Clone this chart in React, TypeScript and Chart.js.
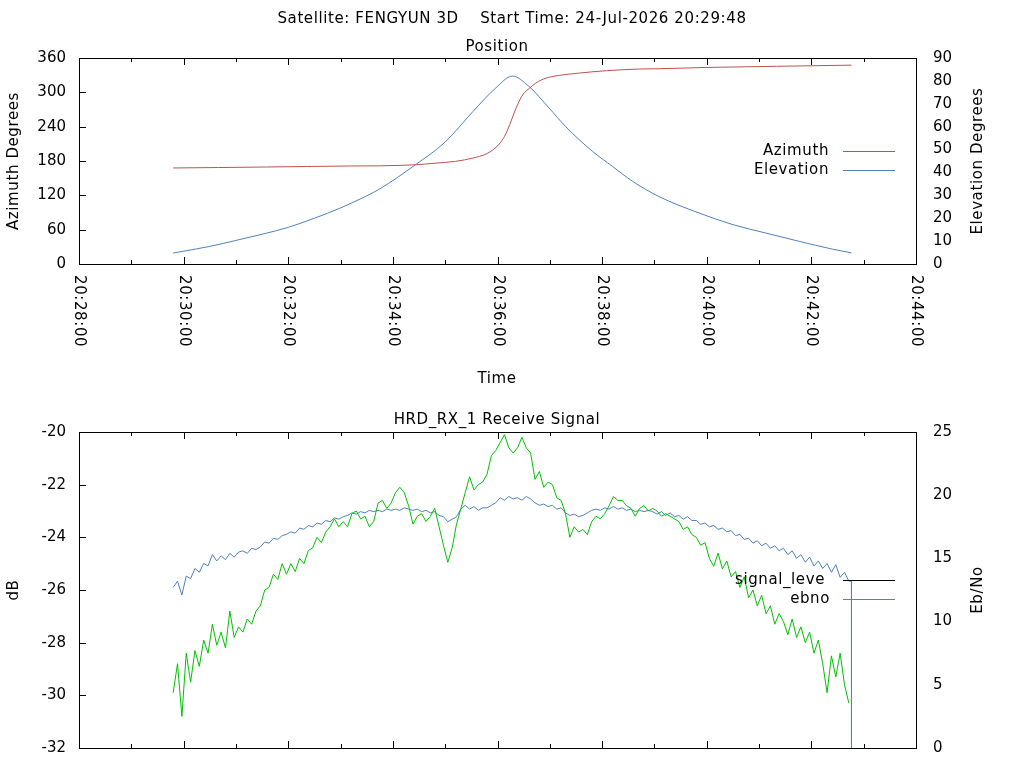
import { useEffect, useRef } from 'react';
import { Chart, registerables } from 'chart.js';

Chart.register(...registerables);

const FONT = '"DejaVu Sans", sans-serif';
const RED = '#c0504d';
const BLUE = '#4f81bd';
const GREEN = '#00c000';

// x axis is seconds after 20:28:00
const timeTickLabels = [
  '20:28:00', '20:30:00', '20:32:00', '20:34:00', '20:36:00',
  '20:38:00', '20:40:00', '20:42:00', '20:44:00',
];

const azimuthTimes = [
  108, 160, 215, 262, 310, 345, 387, 406, 432, 452, 467, 476, 482, 488, 494,
  499, 503, 509, 517, 524, 536, 551, 574, 605, 643, 666, 720, 800, 886,
];
const azimuthValues = [
  167.8, 168.6, 169.5, 170.4, 171.3, 171.6, 173.5, 175.9, 179.4, 185.2, 192.2, 200.9, 209.7, 223.0, 243.4,
  263.8, 278.4, 295.9, 307.5, 316.3, 325.0, 329.6, 333.7, 337.8, 340.7, 341.3, 343.5, 345.5, 347.5,
];

const elevationTimes = [
  108, 120, 150, 180, 210, 240, 270, 300, 330, 345, 386, 420, 452, 478,
  497, 516, 539, 558, 589, 612, 635, 665, 711, 750, 788, 826, 864, 886,
];
const elevationValues = [
  4.8, 5.6, 7.7, 10.3, 13.0, 16.0, 20.0, 24.5, 29.8, 32.8, 43.4, 53.3, 66.7, 76.9,
  82.1, 77.6, 68.2, 60.1, 49.2, 42.6, 36.1, 29.5, 22.3, 17.2, 13.5, 9.9, 6.5, 4.85,
];

// receive signal samples, one every SIGNAL_STEP seconds from SIGNAL_START
const SIGNAL_START = 108;
const SIGNAL_STEP = 5;
const signalLevel = [
  -29.9, -28.8, -30.8, -28.4, -29.5, -28.3, -28.9, -27.9, -28.4, -27.3,
  -28.1, -27.6, -28.2, -26.8, -27.8, -27.4, -27.6, -27.1, -27.3, -26.8,
  -26.6, -26.0, -25.9, -25.4, -25.6, -25.0, -25.4, -25.0, -25.3, -24.8,
  -25.0, -24.5, -24.4, -24.0, -24.2, -23.8, -23.6, -23.3, -23.6, -23.4,
  -23.6, -23.1, -23.0, -23.3, -23.2, -23.6, -23.4, -22.7, -22.6, -22.9,
  -22.7, -22.3, -22.1, -22.3, -22.8, -23.5, -23.2, -23.1, -23.4, -23.2,
  -22.9, -23.6, -24.3, -24.95, -24.4, -23.5, -22.9, -22.3, -21.7, -22.2,
  -22.0, -21.9, -21.6, -20.9, -20.7, -20.4, -20.1, -20.6, -20.8, -20.6,
  -20.2, -20.6, -20.8, -21.8, -21.5, -22.1, -21.9, -22.0, -22.5, -22.6,
  -23.1, -24.0, -23.6, -23.8, -23.7, -23.9, -23.4, -23.2, -23.3, -23.1,
  -22.8, -22.45, -22.6, -22.6, -22.8, -22.9, -23.2, -22.9, -22.8, -23.0,
  -22.9, -23.0, -23.2, -23.1, -23.2, -23.3, -23.4, -23.7, -23.6, -23.9,
  -24.0, -24.3, -24.2, -24.8, -25.1, -24.6, -25.2, -24.9, -25.5, -25.3,
  -25.9, -25.5, -26.3, -26.0, -26.6, -26.2, -26.9, -26.6, -27.3, -26.9,
  -27.2, -27.7, -27.1, -27.8, -27.4, -28.0, -27.6, -28.4, -27.9, -28.8,
  -29.9, -28.5, -29.3, -28.4, -29.6, -30.3,
];
const ebno = [
  12.7, 13.2, 12.1, 13.6, 13.4, 14.2, 13.9, 14.6, 14.4, 15.3,
  14.8, 15.2, 14.9, 15.4, 15.1, 15.5, 15.6, 15.4, 15.8, 15.7,
  15.9, 16.3, 16.2, 16.6, 16.5, 16.8, 16.9, 17.1, 17.0, 17.4,
  17.3, 17.6, 17.5, 17.8, 17.7, 18.0, 17.9, 18.2, 18.1, 18.3,
  18.4, 18.6, 18.5, 18.7, 18.6, 18.8, 18.7, 18.8, 18.7, 18.9,
  18.8, 18.9, 18.8, 19.0, 18.9, 18.8, 18.9, 18.7, 18.8, 18.6,
  18.7, 18.4, 18.3, 17.9, 18.1, 18.3, 18.9, 19.2, 18.9, 19.1,
  18.8, 19.0, 19.0, 19.2, 19.4, 19.8, 19.6, 19.9, 19.7, 19.8,
  19.6, 19.9, 19.7, 19.4, 19.2, 19.3, 19.1, 19.2, 18.9, 19.0,
  18.6, 18.4, 18.5, 18.3, 18.4, 18.6, 18.8, 18.9, 18.8, 19.0,
  18.9, 19.1, 18.9, 19.0, 18.8, 18.9, 18.7, 18.8, 18.7, 18.8,
  18.7, 18.5, 18.7, 18.4, 18.6, 18.3, 18.4, 18.1, 18.3, 18.0,
  18.0, 17.7, 17.8, 17.5, 17.6, 17.3, 17.4, 17.1, 17.2, 16.8,
  16.9, 16.5, 16.6, 16.2, 16.4, 16.0, 16.2, 15.8, 16.0, 15.6,
  15.8, 15.3, 15.6, 15.0, 15.3, 14.7, 15.1, 14.4, 14.8, 14.2,
  14.6, 13.9, 14.5, 13.5, 13.9, 13.2,
];
// the ebno trace drops straight to zero when the pass ends
const ebnoTailTimes = [886, 886];
const ebnoTail = [13.2, 0];

type TextItem = { text: string; x: number; y: number; vertical?: boolean };
type LegendItem = { label: string; color: string; y: number; right: number };

function decor(texts: TextItem[], legend: LegendItem[], xLabels: boolean) {
  return {
    id: 'gnuplotDecor',
    afterDraw(chart: Chart) {
      const { ctx, chartArea: a } = chart;
      const x = chart.scales.x;
      const yl = chart.scales.y;
      ctx.save();
      ctx.strokeStyle = '#000';
      ctx.lineWidth = 1;
      ctx.beginPath();
      for (let v = x.min; v <= x.max; v += 60) {
        const px = Math.round(x.getPixelForValue(v)) + 0.5;
        const len = v % 120 === 0 ? 7 : 4;
        ctx.moveTo(px, a.bottom);
        ctx.lineTo(px, a.bottom - len);
        ctx.moveTo(px, a.top);
        ctx.lineTo(px, a.top + len);
      }
      yl.ticks.forEach((t) => {
        const py = Math.round(yl.getPixelForValue(t.value)) + 0.5;
        ctx.moveTo(a.left, py);
        ctx.lineTo(a.left + 7, py);
      });
      ctx.stroke();
      ctx.strokeRect(
        Math.round(a.left) + 0.5,
        Math.round(a.top) + 0.5,
        Math.round(a.right - a.left),
        Math.round(a.bottom - a.top),
      );

      ctx.fillStyle = '#000';
      ctx.font = `15px ${FONT}`;
      ctx.textBaseline = 'middle';
      (ctx as any).letterSpacing = '0.6px';

      if (xLabels) {
        x.ticks.forEach((t, i) => {
          ctx.save();
          ctx.translate(Math.round(x.getPixelForValue(t.value)), a.bottom + 11);
          ctx.rotate(Math.PI / 2);
          ctx.textAlign = 'left';
          ctx.fillText(timeTickLabels[i] ?? '', 0, 0);
          ctx.restore();
        });
      }

      texts.forEach((t) => {
        ctx.save();
        ctx.translate(t.x, t.y);
        if (t.vertical) ctx.rotate(-Math.PI / 2);
        ctx.textAlign = 'center';
        ctx.fillText(t.text, 0, 0);
        ctx.restore();
      });

      legend.forEach((item) => {
        ctx.textAlign = 'right';
        ctx.fillStyle = '#000';
        ctx.fillText(item.label, item.right, item.y);
        ctx.strokeStyle = item.color;
        ctx.beginPath();
        ctx.moveTo(843, Math.round(item.y) + 0.5);
        ctx.lineTo(895, Math.round(item.y) + 0.5);
        ctx.stroke();
      });
      (ctx as any).letterSpacing = '0px';
      ctx.restore();
    },
  };
}

function yAxis(position: 'left' | 'right', min: number, max: number, step: number, width: number) {
  return {
    type: 'linear' as const,
    position,
    min,
    max,
    ticks: {
      stepSize: step,
      padding: position === 'left' ? 13 : 17,
      color: '#000',
      font: { family: FONT, size: 15 },
    },
    grid: { display: false, drawTicks: false },
    border: { display: false },
    afterFit: (s: any) => {
      s.width = width;
      s.paddingTop = 0;
      s.paddingBottom = 0;
    },
  };
}

function xAxis(height: number) {
  return {
    type: 'linear' as const,
    min: 0,
    max: 960,
    ticks: { stepSize: 120, display: false },
    grid: { display: false, drawTicks: false },
    border: { display: false },
    afterFit: (s: any) => {
      s.height = height;
      s.paddingLeft = 0;
      s.paddingRight = 0;
    },
  };
}

function PositionChart() {
  const canvasRef = useRef<HTMLCanvasElement | null>(null);

  useEffect(() => {
    if (!canvasRef.current) return;
    const chart = new Chart(canvasRef.current, {
      type: 'line',
      data: {
        datasets: [
          {
            label: 'Azimuth',
            data: azimuthTimes.map((t, i) => ({ x: t, y: azimuthValues[i] })),
            borderColor: RED,
            borderWidth: 1,
            pointRadius: 0,
            cubicInterpolationMode: 'monotone',
            yAxisID: 'y',
          },
          {
            label: 'Elevation',
            data: elevationTimes.map((t, i) => ({ x: t, y: elevationValues[i] })),
            borderColor: BLUE,
            borderWidth: 1,
            pointRadius: 0,
            cubicInterpolationMode: 'monotone',
            yAxisID: 'y2',
          },
        ],
      },
      options: {
        animation: false,
        responsive: true,
        maintainAspectRatio: false,
        events: [],
        layout: { padding: { top: 58, bottom: 0, left: 0, right: 0 } },
        scales: {
          x: xAxis(136),
          y: yAxis('left', 0, 360, 60, 79),
          y2: yAxis('right', 0, 90, 10, 108),
        },
        plugins: { legend: { display: false }, tooltip: { enabled: false } },
      },
      plugins: [
        decor(
          [
            { text: 'Satellite: FENGYUN 3D    Start Time: 24-Jul-2026 20:29:48', x: 512, y: 19 },
            { text: 'Position', x: 497, y: 47 },
            { text: 'Azimuth Degrees', x: 14, y: 161, vertical: true },
            { text: 'Elevation Degrees', x: 978, y: 161, vertical: true },
            { text: 'Time', x: 497, y: 379 },
          ],
          [
            { label: 'Azimuth', color: RED, y: 151, right: 829 },
            { label: 'Elevation', color: BLUE, y: 170, right: 829 },
          ],
          true,
        ),
      ],
    });
    return () => chart.destroy();
  }, []);

  return (
    <div style={{ position: 'absolute', left: 0, top: 0, width: 1024, height: 400 }}>
      <canvas ref={canvasRef} />
    </div>
  );
}

function SignalChart() {
  const canvasRef = useRef<HTMLCanvasElement | null>(null);

  useEffect(() => {
    if (!canvasRef.current) return;
    const signalPoints = signalLevel.map((v, i) => ({ x: SIGNAL_START + i * SIGNAL_STEP, y: v }));
    const ebnoPoints = ebno
      .map((v, i) => ({ x: SIGNAL_START + i * SIGNAL_STEP, y: v }))
      .concat(ebnoTailTimes.map((t, i) => ({ x: t, y: ebnoTail[i] })));
    const chart = new Chart(canvasRef.current, {
      type: 'line',
      data: {
        datasets: [
          {
            label: 'signal_level',
            data: signalPoints,
            borderColor: GREEN,
            borderWidth: 1,
            pointRadius: 0,
            yAxisID: 'y',
          },
          {
            label: 'ebno',
            data: ebnoPoints,
            borderColor: BLUE,
            borderWidth: 1,
            pointRadius: 0,
            yAxisID: 'y2',
          },
        ],
      },
      options: {
        animation: false,
        responsive: true,
        maintainAspectRatio: false,
        events: [],
        layout: { padding: { top: 48, bottom: 0, left: 0, right: 0 } },
        scales: {
          x: xAxis(20),
          y: yAxis('left', -32, -20, 2, 79),
          y2: yAxis('right', 0, 25, 5, 108),
        },
        plugins: { legend: { display: false }, tooltip: { enabled: false } },
      },
      plugins: [
        decor(
          [
            { text: 'HRD_RX_1 Receive Signal', x: 497, y: 36 },
            { text: 'dB', x: 14, y: 206, vertical: true },
            { text: 'Eb/No', x: 978, y: 206, vertical: true },
          ],
          [
            { label: 'signal_leve', color: '#000', y: 196, right: 825 },
            { label: 'ebno', color: BLUE, y: 215, right: 830 },
          ],
          false,
        ),
      ],
    });
    return () => chart.destroy();
  }, []);

  return (
    <div style={{ position: 'absolute', left: 0, top: 384, width: 1024, height: 384 }}>
      <canvas ref={canvasRef} />
    </div>
  );
}

export default function App() {
  return (
    <div
      style={{
        position: 'fixed',
        left: 0,
        top: 0,
        width: 1024,
        height: 768,
        overflow: 'hidden',
        background: '#fff',
      }}
    >
      <PositionChart />
      <SignalChart />
    </div>
  );
}
